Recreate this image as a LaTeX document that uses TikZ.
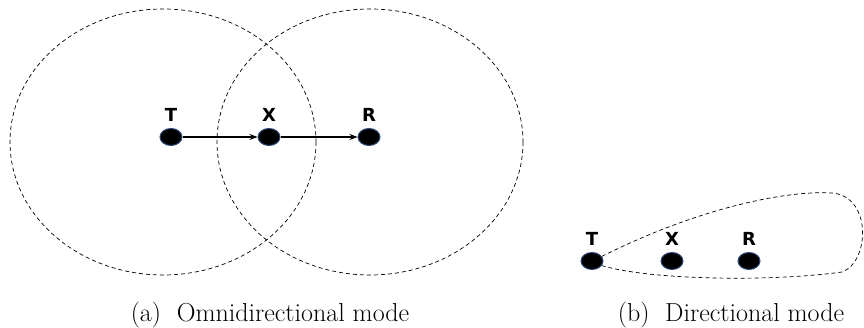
\documentclass[tikz,border=0pt]{standalone}
\usepackage{fontspec}
\newfontfamily\tagfont{DejaVu Sans}
\usetikzlibrary{arrows.meta,positioning,shapes.geometric}
\definecolor{Rim}{HTML}{2F4A7A}

\begin{document}
\begin{tikzpicture}[x=1pt,y=-1pt,
  station/.style={ellipse,fill=black,draw=Rim,line width=1pt,minimum width=22pt,minimum height=17pt,inner sep=0pt},
  tag/.style={font=\tagfont\bfseries\fontsize{18}{18}\selectfont,inner sep=0pt},
  reach/.style={line width=.7pt,dash pattern=on 4pt off 3pt},
  hop/.style={-{Stealth[length=8pt,width=6pt]},line width=1.3pt},
  caption/.style={font=\fontsize{26}{30}\selectfont}]
        \useasboundingbox(0,0)rectangle(864,328);
        % (a) omnidirectional
        \node[station](t1)at(171,137){};
        \node[station](x1)at(269,137){};
        \node[station](r1)at(369,137){};
        \node[tag,above=6pt of t1](tt1){T};
        \node[tag,above=6pt of x1](tx1){X};
        \node[tag,above=6pt of r1](tr1){R};
        \draw[reach](163,142)ellipse[x radius=153,y radius=133];
        \draw[reach](370,142)ellipse[x radius=153,y radius=133];
        \draw[hop](t1)--(x1);
        \draw[hop](x1)--(r1);
        \node[caption](capa)at(270,315){(a)\ \ Omnidirectional mode};
        % (b) directional
        \node[station](t2)at(592,261){};
        \node[station](x2)at(672,261){};
        \node[station](r2)at(749,261){};
        \node[tag,above=6pt of t2](tt2){T};
        \node[tag,above=6pt of x2](tx2){X};
        \node[tag,above=6pt of r2](tr2){R};
        \draw[reach](t2.25)..controls(690,212)and(780,190)..(832,193)..controls(872,196)and(870,262)..(842,272)..controls(770,282)and(650,280)..(t2.-25);
        \node[caption](capb)at(731,315){(b)\ \ Directional mode};
      \end{tikzpicture}
\end{document}
